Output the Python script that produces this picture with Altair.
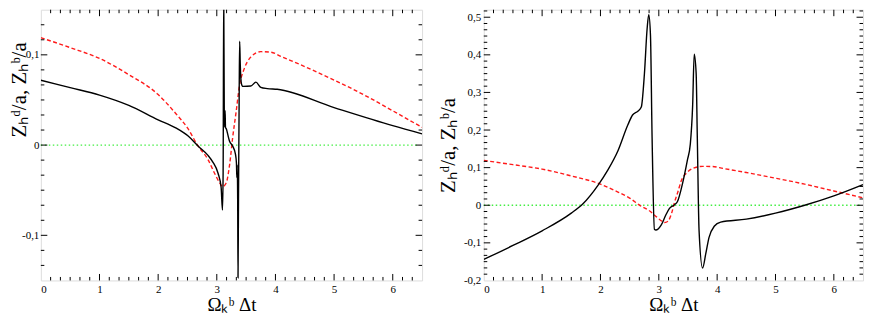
import altair as alt
import numpy as np
import pandas as pd

# ---------------- data ----------------
red_x = [0, 0.5, 1, 1.5, 2, 2.3, 2.5, 2.68, 2.85, 2.96, 3.05, 3.10, 3.16, 3.22, 3.27,
         3.33, 3.385, 3.47, 3.58, 3.75, 3.92, 4.1, 4.5, 5, 5.5, 6, 6.5]
red_y = [0.119, 0.108, 0.096, 0.078, 0.056, 0.035, 0.019, -0.001, -0.016, -0.031, -0.042,
         -0.046, -0.042, -0.021, 0.008, 0.037, 0.065, 0.085, 0.0975, 0.1035, 0.103, 0.098,
         0.087, 0.072, 0.056, 0.038, 0.0196]

left_x = [0, 0.5, 1, 1.5, 2, 2.3, 2.512, 2.68, 2.85, 2.93, 3.02, 3.074, 3.097, 3.108, 3.118,
          3.128, 3.135, 3.142, 3.148, 3.165, 3.19, 3.216, 3.27, 3.318, 3.335, 3.342, 3.348,
          3.356, 3.362, 3.37, 3.382, 3.39, 3.40, 3.415, 3.43, 3.45, 3.58, 3.667, 3.75, 3.86,
          4.03, 5, 6, 6.5]
left_y = [0.0718, 0.0636, 0.0554, 0.044, 0.028, 0.019, 0.010, -0.001, -0.0114, -0.0186,
          -0.031, -0.047, -0.072, -0.03, 0.17, 0.03, 0.02, 0.038, 0.02, 0.0175, 0.011, 0.0046,
          -0.001, -0.010, -0.02, -0.036, -0.022, -0.06, -0.147, -0.06, 0.06, 0.115, 0.09, 0.07,
          0.066, 0.065, 0.0654, 0.0697, 0.064, 0.0626, 0.0618, 0.0415, 0.0215, 0.0125]

right_x = [0, 0.5, 1, 1.5, 1.7, 1.957, 2.128, 2.30, 2.47, 2.55, 2.64, 2.70, 2.754, 2.80,
           2.828, 2.857, 2.885, 2.925, 2.95, 3.04, 3.12, 3.18, 3.27, 3.32, 3.41, 3.49, 3.54,
           3.58, 3.607, 3.64, 3.66, 3.69, 3.75, 3.806, 3.86, 3.95, 4.06, 4.5, 5, 5.5, 6, 6.5]
right_y = [-0.144, -0.107, -0.068, -0.021, 0.004, 0.053, 0.094, 0.145, 0.214, 0.24, 0.25,
           0.261, 0.351, 0.47, 0.507, 0.453, 0.18, -0.064, -0.066, -0.053, -0.026, -0.009,
           0.0016, 0.010, 0.06, 0.12, 0.1625, 0.265, 0.402, 0.351, 0.18, -0.067, -0.167,
           -0.128, -0.086, -0.056, -0.045, -0.037, -0.021, 0.0, 0.025, 0.055]

x_major = [0, 1, 2, 3, 4, 5, 6]
left_y_major = [-0.1, 0, 0.1]
right_y_major = [-0.2, -0.1, 0, 0.1, 0.2, 0.3, 0.4, 0.5]
x_domain = [0, 6.5]
left_y_domain = [-0.15, 0.15]
right_y_domain = [-0.2, 0.52]

FONT = "Liberation Serif"
X_TITLE = "Ωₖᵇ Δt"
Y_TITLE = "Zₕᵈ/a,  Zₕᵇ/a"

MAJ, MIN = 6.5, 3.5


def minor_ticks(lo, hi, step, majors):
    vals = []
    k = int(np.ceil(lo / step - 1e-9))
    while k * step < hi - 1e-9:
        v = round(k * step, 6)
        if v > lo + 1e-9 and all(abs(v - m) > 1e-6 for m in majors):
            vals.append(v)
        k += 1
    return vals


LABEL_EXPR = ("datum.value == 0 ? '0' : (datum.value < 0 ? '-' : '') + "
              "replace(format(abs(datum.value), '.1f'), '.', ',')")


def panel(bx, by, ydom, ymaj, W, H, title_x, title_y=None, label_pad=3):
    xs = alt.Scale(domain=x_domain, nice=False, zero=False)
    ys = alt.Scale(domain=ydom, nice=False, zero=False)
    xaxis = alt.Axis(values=x_major, format="d", ticks=False, tickSize=0, domain=False,
                     grid=False, labelFont=FONT, labelFontSize=11, labelColor="black",
                     labelPadding=3, title=X_TITLE, titleFont=FONT, titleFontSize=19,
                     titleFontWeight="normal", titleColor="black", titlePadding=1)
    yargs = dict(values=ymaj, labelExpr=LABEL_EXPR, ticks=False, tickSize=0, domain=False,
                 grid=False, labelFont=FONT, labelFontSize=11, labelColor="black",
                 labelPadding=label_pad, title=Y_TITLE, titleFont=FONT, titleFontSize=21,
                 titleFontWeight="normal", titleColor="black", titleX=title_x,
                 titleBaseline="alphabetic")
    if title_y is not None:
        yargs["titleY"] = title_y
    yaxis = alt.Axis(**yargs)

    zero_df = pd.DataFrame({"x": [0, 6.45], "y": [0, 0]})
    red_df = pd.DataFrame({"x": red_x, "y": red_y})
    blk_df = pd.DataFrame({"x": bx, "y": by})

    X = lambda f: alt.X(f, scale=xs, axis=xaxis)
    Y = lambda f: alt.Y(f, scale=ys, axis=yaxis)

    zero = alt.Chart(zero_df).mark_line(color="#44ee44", strokeWidth=1.3,
                                         strokeDash=[1.5, 2.5]).encode(x=X("x:Q"), y=Y("y:Q"))
    red = alt.Chart(red_df).mark_line(color="#ff1a1a", strokeWidth=1.4, strokeDash=[4, 2.5],
                                      interpolate="monotone", clip=True).encode(
        x=X("x:Q"), y=Y("y:Q"))
    blk = alt.Chart(blk_df).mark_line(color="black", strokeWidth=1.4, interpolate="monotone",
                                      clip=True).encode(x=X("x:Q"), y=Y("y:Q"))

    xmin = minor_ticks(x_domain[0], x_domain[1], 1 / 6, x_major)
    ymin = minor_ticks(ydom[0], ydom[1], 0.1 / 6, ymaj)
    xt = pd.DataFrame({"t": x_major + xmin, "L": [MAJ] * len(x_major) + [MIN] * len(xmin)})
    yt = pd.DataFrame({"t": ymaj + ymin, "L": [MAJ] * len(ymaj) + [MIN] * len(ymin)})
    xt = xt[(xt.t > x_domain[0] + 1e-9) & (xt.t < x_domain[1] - 1e-9)]
    yt = yt[(yt.t > ydom[0] + 1e-9) & (yt.t < ydom[1] - 1e-9)]

    layers = [zero, red, blk]
    tick_style = dict(color="black", strokeWidth=1)
    for L in (MAJ, MIN):
        dx = xt[xt.L == L]
        dy = yt[yt.L == L]
        layers.append(alt.Chart(dx).mark_rule(**tick_style).encode(
            x=X("t:Q"), y=alt.value(H), y2=alt.value(H - L)))
        layers.append(alt.Chart(dx).mark_rule(**tick_style).encode(
            x=X("t:Q"), y=alt.value(0), y2=alt.value(L)))
        layers.append(alt.Chart(dy).mark_rule(**tick_style).encode(
            y=Y("t:Q"), x=alt.value(0), x2=alt.value(L)))
        layers.append(alt.Chart(dy).mark_rule(**tick_style).encode(
            y=Y("t:Q"), x=alt.value(W), x2=alt.value(W - L)))
    return alt.layer(*layers).properties(width=W, height=H)


H = 272
left = panel(left_x, left_y, left_y_domain, left_y_major, 383, H, title_x=-15, title_y=80,
             label_pad=2)
right = panel(right_x, right_y, right_y_domain, right_y_major, 381, H, title_x=-29)

chart = alt.hconcat(left, right, spacing=14).properties(padding=0).configure_view(
    stroke="black", strokeWidth=1).configure(background="white")

chart.save("out.html", embed_options={"renderer": "svg", "actions": False})
